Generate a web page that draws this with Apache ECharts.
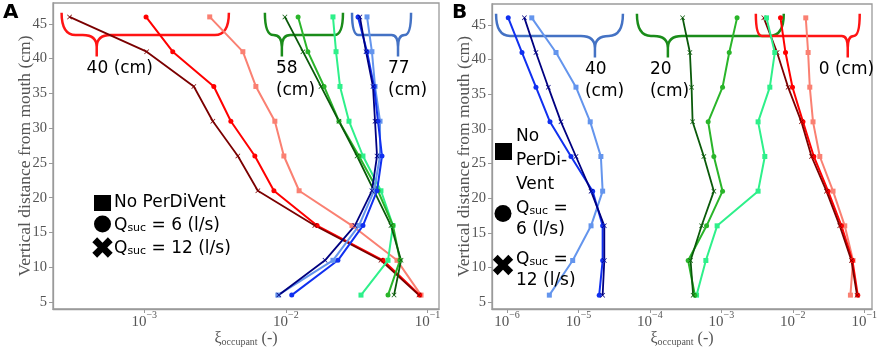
<!DOCTYPE html>
<html>
<head>
<meta charset="utf-8">
<script src="https://cdn.jsdelivr.net/npm/echarts@6/dist/echarts.min.js"></script>
<style>
  html, body { margin: 0; padding: 0; background: #fff; }
  #chart { width: 879px; height: 347px; }
</style>
</head>
<body>
<div id="chart"></div>
<script>
// heights above the mouth (cm), bottom to top
var heights = [6, 11, 16, 21, 26, 31, 36, 41, 46];

// panel A  (none = no PerDiVent, q6 / q12 = suction flow in l/s)
var aRedNone   = [0.0900, 0.0609, 0.0293, 0.0124, 0.00968, 0.00836, 0.00614, 0.00497, 0.00290];
var aRedQ6     = [0.0880, 0.0485, 0.0166, 0.00823, 0.00604, 0.00409, 0.00310, 0.00159, 0.00103];
var aRedQ12    = [0.0870, 0.0469, 0.0160, 0.00634, 0.00458, 0.00305, 0.00224, 0.00104, 0.000297];
var aGreenNone = [0.0339, 0.0526, 0.0570, 0.0469, 0.0350, 0.0279, 0.0241, 0.0226, 0.0215];
var aGreenQ6   = [0.0526, 0.0639, 0.0570, 0.0447, 0.0328, 0.0237, 0.0186, 0.0143, 0.0122];
var aGreenQ12  = [0.0580, 0.0650, 0.0552, 0.0419, 0.0318, 0.0237, 0.0177, 0.0132, 0.00984];
var aBlueNone  = [0.00878, 0.0215, 0.0328, 0.0419, 0.0462, 0.0462, 0.0426, 0.0405, 0.0374];
var aBlueQ6    = [0.0110, 0.0233, 0.0350, 0.0440, 0.0477, 0.0447, 0.0419, 0.0374, 0.0323];
var aBlueQ12   = [0.00892, 0.0189, 0.0307, 0.0405, 0.0440, 0.0426, 0.0412, 0.0368, 0.0333];

// panel B
var bRedNone   = [0.0641, 0.0697, 0.0534, 0.0366, 0.0239, 0.0192, 0.0173, 0.0164, 0.0152];
var bRedQ6     = [0.0812, 0.0684, 0.0480, 0.0312, 0.0197, 0.0139, 0.00990, 0.00791, 0.00673];
var bRedQ12    = [0.0793, 0.0662, 0.0454, 0.0296, 0.0183, 0.0132, 0.00860, 0.00603, 0.00393];
var bGreenNone = [0.000450, 0.000607, 0.000873, 0.00327, 0.00406, 0.00327, 0.00477, 0.00560, 0.00429];
var bGreenQ6   = [0.000426, 0.000343, 0.000621, 0.00104, 0.000786, 0.000654, 0.00104, 0.00129, 0.00166];
var bGreenQ12  = [0.000403, 0.000371, 0.000529, 0.000786, 0.000569, 0.000396, 0.000383, 0.000363, 0.000287];
var bBlueNone  = [3.91e-6, 8.30e-6, 1.50e-5, 2.18e-5, 2.06e-5, 1.46e-5, 9.23e-6, 4.85e-6, 2.22e-6];
var bBlueQ6    = [1.95e-5, 2.18e-5, 2.18e-5, 1.58e-5, 7.86e-6, 3.99e-6, 2.54e-6, 1.62e-6, 1.04e-6];
var bBlueQ12   = [2.18e-5, 2.30e-5, 2.30e-5, 1.50e-5, 9.23e-6, 5.69e-6, 3.78e-6, 2.54e-6, 1.75e-6];

// curly braces marking the distance groups (x in data units)
var aBraceLeft  = [2.61e-4, 7.11e-3, 0.0293];
var aBraceRight = [3.96e-3, 0.0253, 0.0765];
var aBraceTip   = [4.62e-4, 9.37e-3, 0.0619];
var aBraceText  = [3.92e-4, 8.50e-3, 0.0526];
var aBraceLabels = ['40 (cm)', '58\n(cm)', '77\n(cm)'];
var bBraceLeft  = [7.02e-7, 6.58e-5, 3.04e-3];
var bBraceRight = [4.19e-5, 7.48e-3, 0.0865];
var bBraceTip   = [1.70e-5, 1.785e-4, 0.0588];
var bBraceText  = [1.233e-5, 1.0e-4, 0.0231];
var bBraceLabels = ['40\n(cm)', '20\n(cm)', '0 (cm)'];
var braceTop = 46.6, braceMid = 43.4, braceTip = 40.3, labelTop = 40.1;

var RED = ['#fa8072', '#ff0000', '#7b0000'];
var GREEN = ['#2ef08a', '#2ab52a', '#0a5a0a'];
var BLUE = ['#6495ed', '#1030f0', '#000080'];
var aBraceColors = ['#ff1414', '#1a8c1a', '#4472c4'];
var bBraceColors = ['#4472c4', '#1a8c1a', '#ff1414'];

var crossPath = 'path://M0,1L1,0L5,4L9,0L10,1L6,5L10,9L9,10L5,6L1,10L0,9L4,5Z';
var SYMBOLS = ['rect', 'circle', crossPath];

var chart = echarts.init(document.getElementById('chart'), null, { renderer: 'canvas' });

function line(vals, color, kind, idx) {
  return {
    type: 'line',
    xAxisIndex: idx,
    yAxisIndex: idx,
    data: vals.map(function (v, i) { return [v, heights[i]]; }),
    symbol: SYMBOLS[kind],
    symbolSize: 5,
    showSymbol: true,
    lineStyle: { color: color, width: kind === 2 ? 1.8 : 2 },
    itemStyle: { color: color },
    z: 3,
    animation: false
  };
}

function braceSeries(idx, left, right, tip, textX, labels, colors) {
  var data = left.map(function (v, i) {
    return { value: [v, right[i], tip[i], textX[i], braceTop], itemStyle: { color: colors[i] } };
  });
  return {
    type: 'custom',
    xAxisIndex: idx,
    yAxisIndex: idx,
    encode: { x: [0, 1, 2, 3], y: 4 },
    data: data,
    z: 2,
    animation: false,
    renderItem: function (params, api) {
      var i = params.dataIndex;
      var l = api.coord([api.value(0), braceTop]);
      var r = api.coord([api.value(1), braceTop]);
      var t = api.coord([api.value(2), braceTip]);
      var yM = api.coord([api.value(2), braceMid])[1];
      var lab = api.coord([api.value(3), labelTop]);
      var x0 = l[0], x1 = r[0], xt = t[0], yT = l[1], yB = t[1];
      var rr = Math.min(14, (xt - x0) / 2, (x1 - xt) / 2);
      var rv = Math.min(12, yB - yM);
      var d = 'M' + x0 + ',' + yT +
        ' Q' + x0 + ',' + yM + ' ' + (x0 + rr) + ',' + yM +
        ' L' + (xt - rr) + ',' + yM +
        ' Q' + xt + ',' + yM + ' ' + xt + ',' + (yM + rv) +
        ' L' + xt + ',' + yB +
        ' M' + xt + ',' + (yM + rv) +
        ' Q' + xt + ',' + yM + ' ' + (xt + rr) + ',' + yM +
        ' L' + (x1 - rr) + ',' + yM +
        ' Q' + x1 + ',' + yM + ' ' + x1 + ',' + yT;
      var color = api.visual('color');
      return {
        type: 'group',
        children: [{
          type: 'path',
          shape: { pathData: d },
          style: { stroke: color, lineWidth: 2.5, fill: null }
        }, {
          type: 'text',
          x: lab[0],
          y: lab[1],
          style: {
            text: labels[i],
            fill: '#000',
            fontSize: 17,
            fontFamily: 'DejaVu Sans',
            align: 'left', verticalAlign: 'top',
            textAlign: 'left', textVerticalAlign: 'top',
            lineHeight: 22
          }
        }]
      };
    }
  };
}

function powLabel(v) {
  var e = Math.log10(v);
  var r = Math.round(e);
  if (Math.abs(e - r) > 1e-6) return '';
  return '{b|10}{s|' + (r < 0 ? '\u2212' : '') + Math.abs(r) + '}';
}

var GREY = '#555';
var FRAME = '#9a9a9a';

function xAxis(idx, min, max) {
  return {
    type: 'log',
    gridIndex: idx,
    logBase: 10,
    min: min,
    max: max,
    name: '{g|\u03be}{o|occupant}{g| (-)}',
    nameLocation: 'middle',
    nameGap: 20,
    nameMoveOverlap: false,
    nameTextStyle: {
      rich: {
        g: { fontFamily: 'Liberation Serif', fontSize: 16, color: GREY, verticalAlign: 'bottom', lineHeight: 18 },
        o: { fontFamily: 'Liberation Serif', fontSize: 10, color: GREY, verticalAlign: 'bottom', lineHeight: 14 }
      }
    },
    axisLine: { show: true, lineStyle: { color: FRAME, width: 1.3 } },
    axisTick: { show: true, length: 4, lineStyle: { color: FRAME } },
    splitLine: { show: false },
    axisLabel: {
      formatter: powLabel,
      margin: 1,
      showMinLabel: false,
      showMaxLabel: false,
      rich: {
        b: { fontFamily: 'Liberation Serif', fontSize: 15, color: GREY, verticalAlign: 'bottom', lineHeight: 20 },
        s: { fontFamily: 'Liberation Serif', fontSize: 10, color: GREY, verticalAlign: 'top', lineHeight: 10 }
      }
    }
  };
}

function yAxis(idx) {
  return {
    type: 'value',
    gridIndex: idx,
    min: 4,
    max: 48,
    splitNumber: 9,
    name: 'Vertical distance from mouth (cm)',
    nameLocation: 'middle',
    nameGap: 19,
    nameMoveOverlap: false,
    nameTextStyle: { fontFamily: 'Liberation Serif', fontSize: 17.5, color: GREY },
    axisLine: { show: true, lineStyle: { color: FRAME, width: 1.3 } },
    axisTick: { show: true, length: 4, lineStyle: { color: FRAME } },
    splitLine: { show: false },
    axisLabel: {
      fontFamily: 'Liberation Serif', fontSize: 14.5, color: GREY, margin: 6,
      showMinLabel: false, showMaxLabel: false
    }
  };
}

// legend glyphs (filled X)
function xPoints(cx, cy, L, a) {
  var base = [[a, L], [a, a], [L, a], [L, -a], [a, -a], [a, -L], [-a, -L], [-a, -a], [-L, -a], [-L, a], [-a, a], [-a, L]];
  var c = Math.SQRT1_2;
  return base.map(function (p) {
    return [cx + (p[0] - p[1]) * c, cy + (p[0] + p[1]) * c];
  });
}

var qRich = {
  n: { fontFamily: 'DejaVu Sans', fontSize: 17, color: '#000', verticalAlign: 'bottom', lineHeight: 20 },
  s: { fontFamily: 'DejaVu Sans', fontSize: 11, color: '#000', verticalAlign: 'bottom', lineHeight: 14 }
};

function legendText(x, y, txt, rich) {
  var st = { text: txt, align: 'left', verticalAlign: 'middle', textAlign: 'left', textVerticalAlign: 'middle' };
  if (rich) { st.rich = qRich; } else { st.font = '17px "DejaVu Sans"'; st.fill = '#000'; }
  return { type: 'text', x: x, y: y, style: st, z: 10 };
}

var graphics = [
  { type: 'text', x: 3, y: 3, style: { text: 'A', font: 'bold 20px "DejaVu Sans"', fill: '#000' } },
  { type: 'text', x: 452, y: 3, style: { text: 'B', font: 'bold 20px "DejaVu Sans"', fill: '#000' } },
  // panel A legend
  { type: 'rect', shape: { x: 94, y: 195, width: 17, height: 16 }, style: { fill: '#000' }, z: 10 },
  { type: 'circle', shape: { cx: 102.5, cy: 224, r: 8.5 }, style: { fill: '#000' }, z: 10 },
  { type: 'polygon', shape: { points: xPoints(102.5, 247.5, 11, 3.4) }, style: { fill: '#000' }, z: 10 },
  legendText(114, 202.5, 'No PerDiVent'),
  legendText(114, 224, '{n|Q}{s|suc}{n| = 6 (l/s)}', true),
  legendText(114, 247, '{n|Q}{s|suc}{n| = 12 (l/s)}', true),
  // panel B legend
  { type: 'rect', shape: { x: 495, y: 143, width: 17, height: 17 }, style: { fill: '#000' }, z: 10 },
  { type: 'circle', shape: { cx: 503, cy: 213.5, r: 8.5 }, style: { fill: '#000' }, z: 10 },
  { type: 'polygon', shape: { points: xPoints(503, 265, 11, 3.4) }, style: { fill: '#000' }, z: 10 },
  legendText(516, 137, 'No'),
  legendText(516, 161, 'PerDi-'),
  legendText(516, 185, 'Vent'),
  legendText(516, 207, '{n|Q}{s|suc}{n| =}', true),
  legendText(516, 230, '6 (l/s)'),
  legendText(516, 258, '{n|Q}{s|suc}{n| =}', true),
  legendText(516, 281, '12 (l/s)')
];

var series = [
  braceSeries(0, aBraceLeft, aBraceRight, aBraceTip, aBraceText, aBraceLabels, aBraceColors),
  braceSeries(1, bBraceLeft, bBraceRight, bBraceTip, bBraceText, bBraceLabels, bBraceColors),
  line(aRedNone, RED[0], 0, 0), line(aRedQ6, RED[1], 1, 0), line(aRedQ12, RED[2], 2, 0),
  line(aGreenNone, GREEN[0], 0, 0), line(aGreenQ6, GREEN[1], 1, 0), line(aGreenQ12, GREEN[2], 2, 0),
  line(aBlueNone, BLUE[0], 0, 0), line(aBlueQ6, BLUE[1], 1, 0), line(aBlueQ12, BLUE[2], 2, 0),
  line(bRedNone, RED[0], 0, 1), line(bRedQ6, RED[1], 1, 1), line(bRedQ12, RED[2], 2, 1),
  line(bGreenNone, GREEN[0], 0, 1), line(bGreenQ6, GREEN[1], 1, 1), line(bGreenQ12, GREEN[2], 2, 1),
  line(bBlueNone, BLUE[0], 0, 1), line(bBlueQ6, BLUE[1], 1, 1), line(bBlueQ12, BLUE[2], 2, 1)
];

chart.setOption({
  animation: false,
  backgroundColor: '#fff',
  grid: [
    { left: 53, top: 3, width: 386, height: 306, show: true, borderColor: FRAME, borderWidth: 1.3, containLabel: false, outerBoundsMode: 'none' },
    { left: 492, top: 4, width: 380, height: 305, show: true, borderColor: FRAME, borderWidth: 1.3, containLabel: false, outerBoundsMode: 'none' }
  ],
  xAxis: [xAxis(0, 2.27e-4, 0.1205), xAxis(1, 6.16e-7, 0.1285)],
  yAxis: [yAxis(0), yAxis(1)],
  graphic: graphics,
  series: series
});
</script>
</body>
</html>
